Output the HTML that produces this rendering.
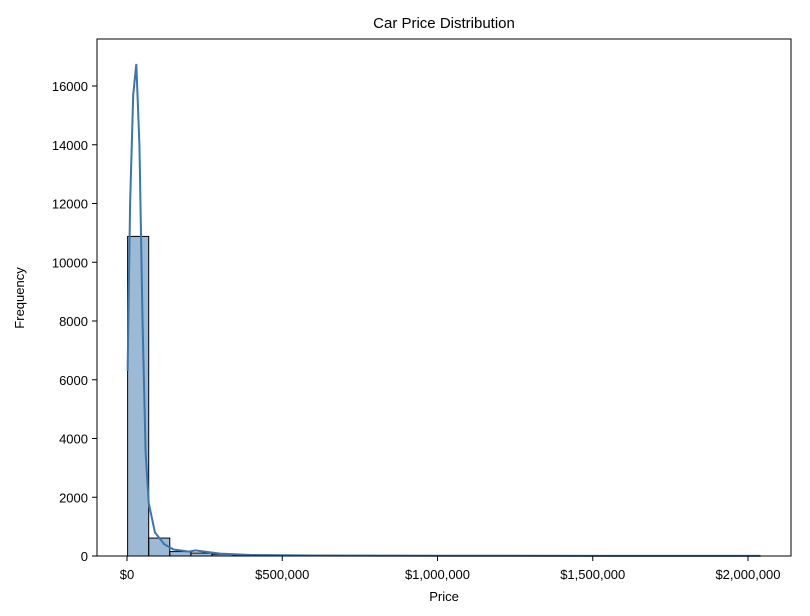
<!DOCTYPE html>
<html><head><meta charset="utf-8">
<style>
body{margin:0;background:#fff;}
svg{display:block;font-family:"Liberation Sans","DejaVu Sans",sans-serif;}
</style></head>
<body>
<svg id="chart" width="810" height="616" viewBox="0 0 810 616" xmlns="http://www.w3.org/2000/svg">
<rect x="0" y="0" width="810" height="616" fill="#fff"/>
<g id="bars"></g>
<path id="kde" fill="none" stroke="#3a75ae" stroke-width="2"/>
<rect x="97" y="39" width="694" height="517" fill="none" stroke="#000" stroke-width="1"/>
<g id="yaxis"></g>
<g id="xaxis"></g>
<text x="444" y="28" font-size="15" text-anchor="middle">Car Price Distribution</text>
<text x="444" y="601" font-size="13" text-anchor="middle">Price</text>
<text x="24" y="298" font-size="13" text-anchor="middle" transform="rotate(-90 24 298)">Frequency</text>
</svg>
<script>
const binStart = 2000;
const binWidth = 67900;
const binCounts = [10880, 610, 150, 100, 60, 25, 15, 10, 8, 6, 5, 4, 3, 3, 2, 2, 2, 1, 1, 1, 1, 1, 1, 1, 1, 1, 1, 0, 0, 1];
const kdePrices = [2000, 10000, 20000, 30000, 40000, 50000, 60000, 70000, 90000, 120000, 150000, 200000, 220000, 250000, 300000, 400000, 600000, 1000000, 1500000, 2040000];
const kdeValues = [6300, 12000, 15700, 16750, 14000, 8000, 3500, 1800, 800, 400, 220, 150, 190, 150, 80, 35, 15, 8, 6, 5];
const yTicks = [0, 2000, 4000, 6000, 8000, 10000, 12000, 14000, 16000];
const xTicks = [0, 500000, 1000000, 1500000, 2000000];
const xTickLabels = ["$0", "$500,000", "$1,000,000", "$1,500,000", "$2,000,000"];

const X = p => 127 + p / 500000 * 155.25;
const Y = v => 556 - v / 2000 * 58.75;
const NS = "http://www.w3.org/2000/svg";
const mk = (tag, attrs, parent) => { const e = document.createElementNS(NS, tag); for (const k in attrs) e.setAttribute(k, attrs[k]); parent.appendChild(e); return e; };

const bars = document.getElementById('bars');
binCounts.forEach((c, i) => {
  const x0 = X(binStart + i * binWidth), x1 = X(binStart + (i + 1) * binWidth);
  const r = mk('rect', {x: x0, y: Y(c), width: x1 - x0, height: 556 - Y(c), fill: 'rgba(58,117,174,0.5)', stroke: '#000', 'stroke-width': 1}, bars);
  
  
});

let d = '';
kdePrices.forEach((p, i) => { d += (i ? 'L' : 'M') + X(p).toFixed(2) + ',' + Y(kdeValues[i]).toFixed(2); });
document.getElementById('kde').setAttribute('d', d);

const ya = document.getElementById('yaxis');
yTicks.forEach(v => {
  mk('line', {x1: 92, x2: 97, y1: Y(v), y2: Y(v), stroke: '#000'}, ya);
  const t = mk('text', {x: 88, y: Y(v) + 5, 'font-size': 13, 'text-anchor': 'end'}, ya);
  t.textContent = v;
  
  
});
const xa = document.getElementById('xaxis');
xTicks.forEach((v, i) => {
  mk('line', {x1: X(v), x2: X(v), y1: 556, y2: 561, stroke: '#000'}, xa);
  const t = mk('text', {x: X(v), y: 579, 'font-size': 13, 'text-anchor': 'middle'}, xa);
  t.textContent = xTickLabels[i];
  
  
});
</script>
</body></html>
